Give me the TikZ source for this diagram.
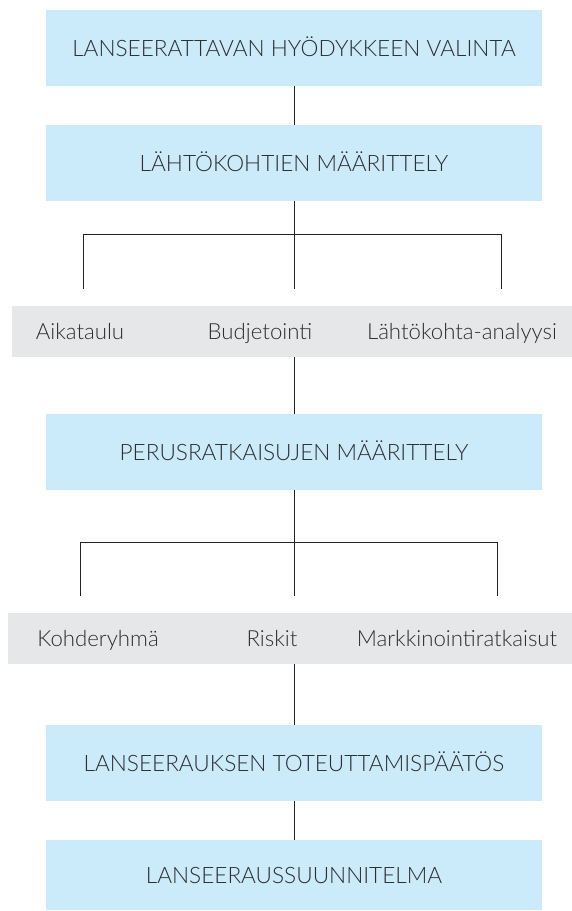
\documentclass[tikz,border=0pt]{standalone}
\usepackage{fontspec}
\setmainfont{Lato Light}
\definecolor{boxblue}{HTML}{CBEAFA}
\definecolor{bargray}{HTML}{E6E7E8}
\definecolor{txt}{HTML}{2E2E2E}
\definecolor{ln}{HTML}{222222}
\begin{document}
\begin{tikzpicture}[x=1pt,y=-1pt,
  bluebox/.style={fill=boxblue, minimum width=496pt, inner sep=0pt, text=txt,
    text height=16pt, text depth=0pt, font=\fontsize{22.6}{26}\selectfont},
  graybar/.style={fill=bargray, inner sep=0pt, minimum height=51pt},
  itemtext/.style={text=txt, inner sep=0pt, text height=16pt, text depth=0pt,
    font=\fontsize{22.2}{26}\selectfont},
  conn/.style={draw=ln, line width=1pt}]
\useasboundingbox (0,0) rectangle (572,911);

% blue boxes
\node[bluebox, minimum height=76pt] (b1) at (294,48) {LANSEERATTAVAN HYÖDYKKEEN VALINTA};
\node[bluebox, minimum height=76pt] (b2) at (294,163) {LÄHTÖKOHTIEN MÄÄRITTELY};
\node[bluebox, minimum height=76pt] (b3) at (294,452) {PERUSRATKAISUJEN MÄÄRITTELY};
\node[bluebox, minimum height=76pt] (b4) at (294,763) {LANSEERAUKSEN TOTEUTTAMISPÄÄTÖS};
\node[bluebox, minimum height=70pt] (b5) at (294,875) {LANSEERAUSSUUNNITELMA};

% gray bars
\node[graybar, minimum width=560pt] (g1) at (292,331.5) {};
\node[graybar, minimum width=564pt] (g2) at (290,638.5) {};

\node[itemtext] (g1a) at (80,331.5) {Aikataulu};
\node[itemtext] (g1b) at (260,331.5) {Budjetointi};
\node[itemtext] (g1c) at (462,331.5) {Lähtökohta-analyysi};

\node[itemtext] (g2a) at (98,638.5) {Kohderyhmä};
\node[itemtext] (g2b) at (272,638.5) {Riskit};
\node[itemtext] (g2c) at (457,638.5) {Markkinointiratkaisut};

% junction coordinates
\coordinate (j1) at (294,234);
\coordinate (l1) at (83,289);
\coordinate (m1) at (294,289);
\coordinate (r1) at (501,289);
\coordinate (j2) at (294,542);
\coordinate (l2) at (80,596);
\coordinate (m2) at (294,596);
\coordinate (r2) at (497,596);

% connectors
\draw[conn] (b1.south) -- (b2.north);
\draw[conn] (b2.south) -- (j1);
\draw[conn] (l1) -- (l1 |- j1) -- (r1 |- j1) -- (r1);
\draw[conn] (j1) -- (m1);
\draw[conn] (b3.north |- g1.south) -- (b3.north);
\draw[conn] (b3.south) -- (j2);
\draw[conn] (l2) -- (l2 |- j2) -- (r2 |- j2) -- (r2);
\draw[conn] (j2) -- (m2);
\draw[conn] (b4.north |- g2.south) -- (b4.north);
\draw[conn] (b4.south) -- (b5.north);
\end{tikzpicture}
\end{document}
